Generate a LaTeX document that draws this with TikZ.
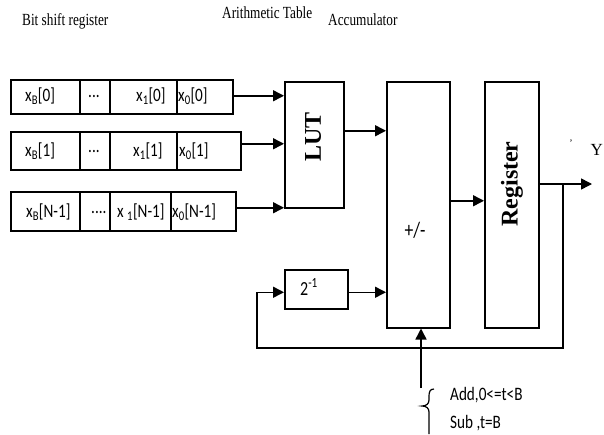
\documentclass[tikz,border=0pt]{standalone}
\usepackage{fontspec}
\setmainfont{Liberation Serif}
\newfontfamily\calfont{Carlito}
\usetikzlibrary{arrows.meta}
\newcommand\sqz[1]{\scalebox{0.8}[1]{#1}}
\begin{document}
\begin{tikzpicture}[x=1pt,y=-1pt,
  cell/.style={draw, line width=1.5pt, inner sep=0pt, anchor=north west},
  lbl/.style={font=\calfont\fontsize{19}{19}\selectfont, inner sep=0pt, anchor=west},
  title/.style={font=\fontsize{17}{17}\selectfont, inner sep=0pt, anchor=base west},
  arr/.style={line width=1.5pt, -{Triangle[length=11pt,width=11pt]}},
  bigserif/.style={font=\bfseries\fontsize{24}{24}\selectfont, inner sep=0pt}]
\useasboundingbox (0,0) rectangle (604,434);
\fill[white] (0,0) rectangle (604,434);
% titles
\node[title] (t1) at (22,25) {\scalebox{0.78}[1]{Bit shift register}};
\node[title] (t2) at (222,18) {\scalebox{0.78}[1]{Arithmetic Table}};
\node[title] (t3) at (328,25) {\scalebox{0.78}[1]{Accumulator}};
% row 1
\node[cell, minimum width=69pt, minimum height=34pt] (r1a) at (10,79) {};
\node[cell, minimum width=30pt, minimum height=34pt] (r1b) at (79,79) {};
\node[cell, minimum width=67pt, minimum height=34pt] (r1c) at (109,79) {};
\node[cell, minimum width=56pt, minimum height=34pt] (r1d) at (176,79) {};
\node[lbl] (l1a) at (25,96) {\sqz{x\textsubscript{B}[0]}};
\node[lbl] (l1b) at (88,96) {\sqz{...}};
\node[lbl] (l1c) at (136,96) {\sqz{x\textsubscript{1}[0]}};
\node[lbl] (l1d) at (178,96) {\sqz{x\textsubscript{0}[0]}};
% row 2
\node[cell, minimum width=69pt, minimum height=38pt] (r2a) at (10,131) {};
\node[cell, minimum width=30pt, minimum height=38pt] (r2b) at (79,131) {};
\node[cell, minimum width=67pt, minimum height=38pt] (r2c) at (109,131) {};
\node[cell, minimum width=64pt, minimum height=38pt] (r2d) at (176,131) {};
\node[lbl] (l2a) at (25,151) {\sqz{x\textsubscript{B}[1]}};
\node[lbl] (l2b) at (88,151) {\sqz{...}};
\node[lbl] (l2c) at (133,151) {\sqz{x\textsubscript{1}[1]}};
\node[lbl] (l2d) at (179,151) {\sqz{x\textsubscript{0}[1]}};
% row 3
\node[cell, minimum width=69pt, minimum height=39pt] (r3a) at (10,191) {};
\node[cell, minimum width=30pt, minimum height=39pt] (r3b) at (79,191) {};
\node[cell, minimum width=61pt, minimum height=39pt] (r3c) at (109,191) {};
\node[cell, minimum width=65pt, minimum height=39pt] (r3d) at (170,191) {};
\node[lbl] (l3a) at (26,212) {\sqz{x\textsubscript{B}[N-1]}};
\node[lbl] (l3b) at (91,212) {\sqz{....}};
\node[lbl] (l3c) at (117,212) {\sqz{x \textsubscript{1}[N-1]}};
\node[lbl] (l3d) at (172,212) {\sqz{x\textsubscript{0}[N-1]}};
% blocks
\node[cell, minimum width=59pt, minimum height=126pt] (lut) at (284,81) {};
\node[bigserif, rotate=90] (lutl) at (313,137) {LUT};
\node[cell, minimum width=63pt, minimum height=246pt] (pm) at (386,81) {};
\node[font=\calfont\fontsize{22}{22}\selectfont, inner sep=0pt] (pml) at (415,230) {\sqz{+/-}};
\node[cell, minimum width=54pt, minimum height=246pt] (reg) at (484,81) {};
\node[bigserif, rotate=90] (regl) at (512,184) {Register};
\node[cell, minimum width=63pt, minimum height=39pt] (half) at (284,269) {};
\node[font=\calfont\fontsize{20}{20}\selectfont, inner sep=0pt] (halfl) at (309,287) {\sqz{2\textsuperscript{-1}}};
% output label
\node[font=\fontsize{17}{17}\selectfont, inner sep=0pt, anchor=east] (yl) at (603,150) {Y};
\node[font=\fontsize{10}{10}\selectfont, inner sep=0pt] (tick) at (571,143) {'};
% connectors
\draw[arr] ([yshift=1pt]r1d.east) -- ([yshift=1pt]r1d.east -| lut.west);
\draw[arr] ([yshift=7pt]r2d.east) -- ([yshift=7pt]r2d.east -| lut.west);
\draw[arr] ([yshift=3.5pt]r3d.east) -- ([yshift=3.5pt]r3d.east -| lut.west);
\draw[arr] ([yshift=14pt]lut.east) -- ([yshift=14pt]lut.east -| pm.west);
\draw[arr] ([yshift=4pt]pm.east) -- ([yshift=4pt]pm.east -| reg.west);
\coordinate (out) at (592,184);
\coordinate (tap) at (563,184);
\coordinate (fbl) at (257,348);
\draw[arr] (reg.east |- out) -- (out);
\draw[arr] (tap) |- (fbl) |- ([yshift=-3pt]half.west);
\draw[arr] ([yshift=-3pt]half.east) -- ([yshift=-3pt]half.east -| pm.west);
\coordinate (ctl) at (421,388);
\draw[arr] (ctl) -- (ctl |- pm.south);
% brace
\draw[line width=1.2pt] (434,389) .. controls (430,389) and (429,392) .. (429,396) -- (429,400)
  .. controls (429,404) and (426,406) .. (422,406)
  .. controls (426,406) and (429,408) .. (429,412) -- (429,434);
\node[lbl] (add) at (450,395) {\sqz{Add,0<=t<B}};
\node[lbl] (sub) at (450,423) {\sqz{Sub ,t=B}};
\end{tikzpicture}
\end{document}
